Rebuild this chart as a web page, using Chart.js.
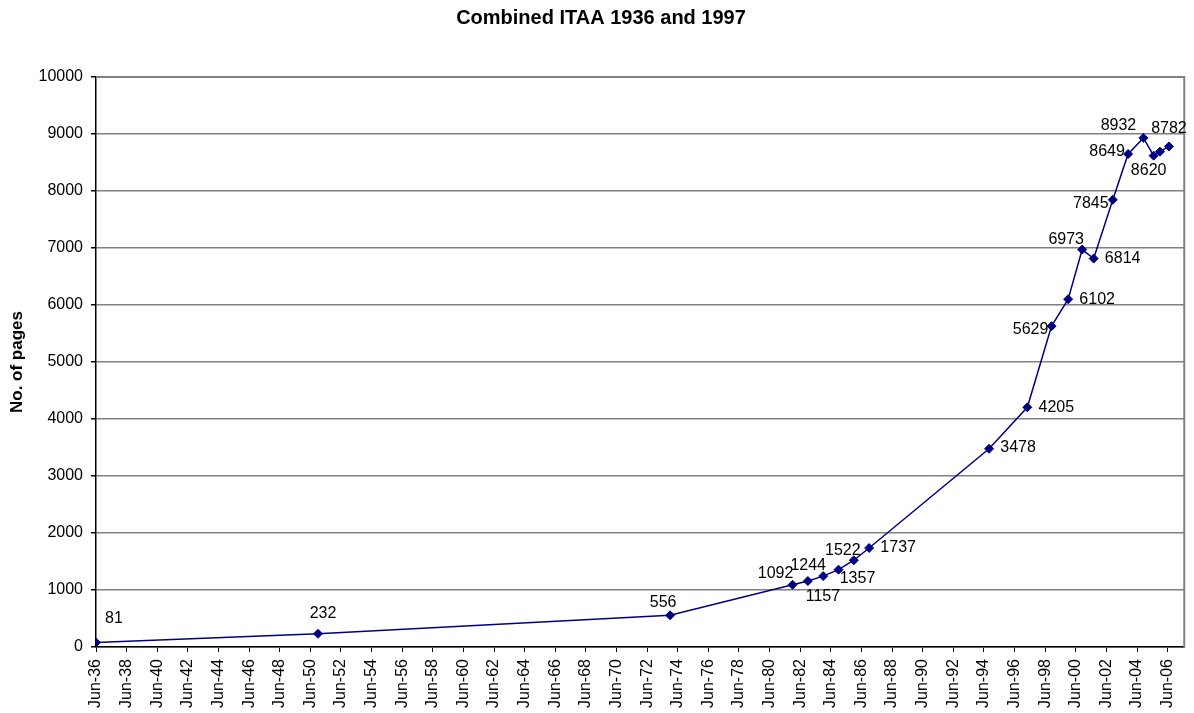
<!DOCTYPE html>
<html>
<head>
<meta charset="utf-8">
<title>Combined ITAA 1936 and 1997</title>
<script src="https://cdn.jsdelivr.net/npm/chart.js@4/dist/chart.umd.min.js"></script>
<style>
  html, body { margin: 0; padding: 0; background: #fff; }
  #wrap { width: 1194px; height: 713px; }
</style>
</head>
<body>
<div id="wrap"><canvas id="itaaChart"></canvas></div>
<script>
// data
const dates = ['1936-06', '1950-12', '1973-12', '1981-12', '1982-12', '1983-12', '1984-12',
    '1985-12', '1986-12', '1994-10', '1997-04', '1998-11', '1999-12', '2000-11', '2001-08',
    '2002-11', '2003-11', '2004-11', '2005-07', '2005-12', '2006-07'];
const pages = [81, 232, 556, 1092, 1157, 1244, 1357, 1522, 1737, 3478, 4205, 5629, 6102,
    6973, 6814, 7845, 8649, 8932, 8620, 8690, 8782];
const showLabel = [true, true, true, true, true, true, true, true, true, true, true, true, true,
    true, true, true, true, true, true, false, true];
const xTickLabels = ['Jun-36', 'Jun-38', 'Jun-40', 'Jun-42', 'Jun-44', 'Jun-46', 'Jun-48',
    'Jun-50', 'Jun-52', 'Jun-54', 'Jun-56', 'Jun-58', 'Jun-60', 'Jun-62', 'Jun-64', 'Jun-66',
    'Jun-68', 'Jun-70', 'Jun-72', 'Jun-74', 'Jun-76', 'Jun-78', 'Jun-80', 'Jun-82', 'Jun-84',
    'Jun-86', 'Jun-88', 'Jun-90', 'Jun-92', 'Jun-94', 'Jun-96', 'Jun-98', 'Jun-00', 'Jun-02',
    'Jun-04', 'Jun-06'];
const xStart = '1936-06', xEnd = '2007-07';

// where each value label sits relative to its marker (text centre, px)
const labelOffsets = [[18, -24], [5, -20], [-7, -13], [-17, -11], [15, 16], [-15, -10], [19, 9],
    [-11, -10], [29, 0], [29, -1], [29, 0], [-21, 3], [29, 0], [-16, -10], [29, 0], [-22, 4],
    [-21, -2], [-25, -12], [-5, 15], null, [0, -18]];

const FONT = '"Liberation Sans", Arial, Helvetica, sans-serif';
const NAVY = '#000080';

function toYear(s) {
    const [y, m] = s.split('-').map(Number);
    return y + (m - 1) / 12;
}
function tickToYear(lbl) {
    let yy = Number(lbl.split('-')[1]);
    return (yy < 30 ? 2000 : 1900) + yy + 5 / 12;
}

const points = dates.map((d, i) => ({ x: toYear(d), y: pages[i] }));

const valueLabels = {
    id: 'valueLabels',
    afterDatasetsDraw(chart) {
        const ctx = chart.ctx;
        const meta = chart.getDatasetMeta(0);
        ctx.save();
        ctx.font = '16px ' + FONT;
        ctx.fillStyle = '#000';
        ctx.textAlign = 'center';
        ctx.textBaseline = 'middle';
        meta.data.forEach((pt, i) => {
            const off = labelOffsets[i];
            if (!showLabel[i] || !off) return;
            ctx.fillText(String(pages[i]), pt.x + off[0], pt.y + off[1]);
        });
        ctx.restore();
    }
};

const frame = {
    id: 'frame',
    beforeDatasetsDraw(chart) {
        const { ctx, chartArea: a } = chart;
        ctx.save();
        ctx.strokeStyle = '#808080';
        ctx.lineWidth = 2;
        ctx.beginPath();
        ctx.moveTo(a.left, a.top);
        ctx.lineTo(a.right, a.top);
        ctx.lineTo(a.right, a.bottom);
        ctx.stroke();
        ctx.restore();
    },
    afterDraw(chart) {
        const ctx = chart.ctx;
        ctx.save();
        ctx.font = 'bold 20px ' + FONT;
        ctx.fillStyle = '#000';
        ctx.textAlign = 'center';
        ctx.textBaseline = 'middle';
        ctx.fillText('Combined ITAA 1936 and 1997', 601, 18);
        ctx.restore();
    }
};

new Chart(document.getElementById('itaaChart'), {
    type: 'line',
    data: {
        datasets: [{
            data: points,
            borderColor: NAVY,
            backgroundColor: NAVY,
            borderWidth: 1.5,
            pointStyle: 'rectRot',
            pointRadius: 4.5,
            pointBorderWidth: 1,
            pointBackgroundColor: NAVY,
            pointBorderColor: NAVY,
            tension: 0,
            fill: false
        }]
    },
    options: {
        responsive: true,
        maintainAspectRatio: false,
        animation: false,
        layout: { padding: { top: 77, right: 9, bottom: 0, left: 0 } },
        plugins: {
            legend: { display: false },
            tooltip: { enabled: false },
            title: { display: false }
        },
        scales: {
            x: {
                type: 'linear',
                min: toYear(xStart),
                max: toYear(xEnd),
                afterBuildTicks: s => { s.ticks = xTickLabels.map(l => ({ value: tickToYear(l) })); },
                afterFit: s => { s.height = 66; },
                border: { color: '#000', width: 1.5 },
                grid: { drawOnChartArea: false, drawTicks: true, tickLength: 5, tickColor: '#000' },
                ticks: {
                    autoSkip: false,
                    minRotation: 90,
                    maxRotation: 90,
                    padding: 7,
                    color: '#000',
                    font: { family: FONT, size: 16 },
                    callback: (v, i) => xTickLabels[i]
                }
            },
            y: {
                min: 0,
                max: 10000,
                afterFit: s => { s.width = 96; },
                border: { color: '#000', width: 1.5 },
                grid: { color: '#808080', lineWidth: 1.5, tickLength: 5, tickColor: '#000' },
                ticks: {
                    stepSize: 1000,
                    padding: 8,
                    color: '#000',
                    font: { family: FONT, size: 16 },
                    callback: v => String(v)
                },
                title: {
                    display: true,
                    text: 'No. of pages',
                    color: '#000',
                    padding: { top: 7, bottom: 0 },
                    font: { family: FONT, size: 17, weight: 'bold' }
                }
            }
        }
    },
    plugins: [frame, valueLabels]
});
</script>
</body>
</html>
